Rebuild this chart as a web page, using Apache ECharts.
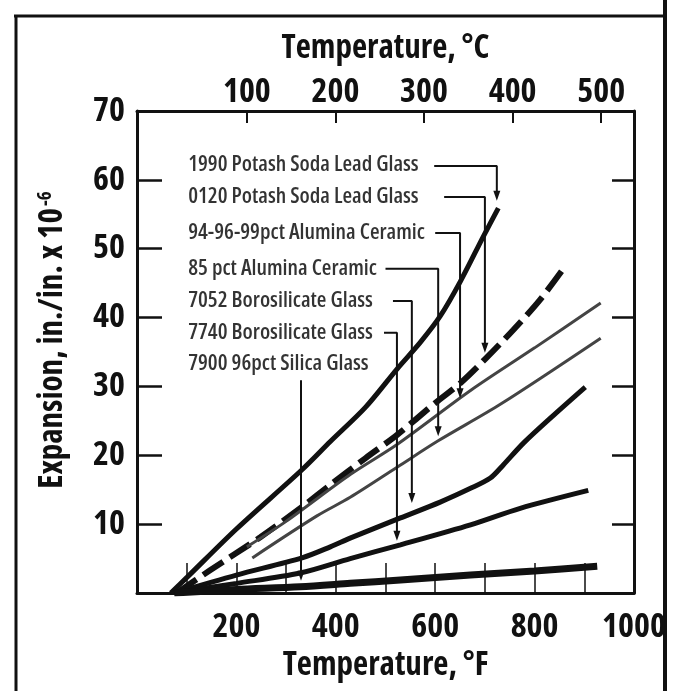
<!DOCTYPE html>
<html>
<head>
<meta charset="utf-8">
<script src="https://cdn.jsdelivr.net/npm/echarts@6/dist/echarts.min.js"></script>
<style>
html,body{margin:0;padding:0;background:#fff;}
#chart{width:673px;height:691px;}
</style>
</head>
<body>
<div id="chart"></div>
<script>
// ---- Data ----
const fahrenheitLabels = [200, 400, 600, 800, 1000];
const fahrenheitTicks = [100, 200, 300, 400, 500, 600, 700, 800, 900];
const celsiusLabels = [100, 200, 300, 400, 500];
const expansionTicks = [10, 20, 30, 40, 50, 60];

const seriesNames = [
  '1990 Potash Soda Lead Glass',
  '0120 Potash Soda Lead Glass',
  '94-96-99pct Alumina Ceramic',
  '85 pct Alumina Ceramic',
  '7052 Borosilicate Glass',
  '7740 Borosilicate Glass',
  '7900 96pct Silica Glass'
];

// [°F, expansion x 10^-6]
const glass1990 = [[68,0],[101,2.3],[200,9.3],[332,17.9],[389,22.0],[460,27.0],[524,32.6],[570,36.4],[610,40.2],[651,45.3],[697,51.8],[727,55.9]];
const glass0120 = [[80,0],[147,3.3],[248,8.1],[332,12.5],[389,15.7],[460,19.6],[524,23.0],[600,27.6],[651,30.5],[701,34.0],[757,38.2],[810,42.5],[856,46.9]];
const alumina949699 = [[221,6.7],[300,10.4],[429,17.2],[524,21.6],[671,29.4],[800,35.6],[933,42.1]];
const alumina85 = [[232,5.1],[362,11.2],[429,13.9],[524,18.3],[606,22.1],[731,27.4],[933,37.0]];
const boro7052 = [[75,0],[200,2.6],[332,5.1],[389,6.7],[430,8.0],[530,10.9],[610,13.2],[671,15.2],[711,16.7],[737,18.6],[778,21.8],[838,25.8],[902,29.9]];
const boro7740 = [[75,0],[200,1.4],[328,2.9],[429,5.0],[530,7.0],[671,9.9],[771,12.3],[908,14.9]];
const silica7900 = [[75,0],[200,0.5],[328,0.9],[429,1.4],[530,1.9],[671,2.6],[800,3.2],[926,3.9]];

// Annotation layout in data units: text row level, leader start/end (°F) and arrow tip level
const annotationTextF = 103;
const annotationRows = [62.2, 57.5, 52.3, 47.1, 42.4, 37.8, 33.3];
const leaderPaths = [
  [[598,62.0],[724,62.0],[724,57.7]],
  [[618,57.5],[700,57.5],[700,35.6]],
  [[600,52.3],[650,52.3],[650,29.0]],
  [[500,47.1],[606,47.1],[606,23.5]],
  [[515,42.4],[553,42.4],[553,13.8]],
  [[497,37.8],[523,37.8],[523,8.3]],
  [[330,30.9],[330,2.5]]
];

const FONT = "'Open Sans',Roboto,'DejaVu Sans Condensed',sans-serif";
const STRETCH = 'condensed';
const INK = '#111';

const chart = echarts.init(document.getElementById('chart'), null, {renderer: 'canvas'});

const curveSeries = [
  {name: seriesNames[0], data: glass1990, lineStyle: {width: 5, color: INK}},
  {name: seriesNames[1], data: glass0120, lineStyle: {width: 6, color: INK, type: [24, 8]}},
  {name: seriesNames[2], data: alumina949699, lineStyle: {width: 3, color: '#444'}},
  {name: seriesNames[3], data: alumina85, lineStyle: {width: 3, color: '#444'}},
  {name: seriesNames[4], data: boro7052, lineStyle: {width: 5, color: INK}},
  {name: seriesNames[5], data: boro7740, lineStyle: {width: 5, color: INK}},
  {name: seriesNames[6], data: silica7900, lineStyle: {width: 7, color: INK}}
].map(s => Object.assign({
  type: 'line', xAxisIndex: 0, yAxisIndex: 0, showSymbol: false, smooth: 0.3,
  z: 3, silent: true, clip: true
}, s));

const leaderSeries = leaderPaths.map((path, i) => ({
  type: 'line', name: 'leader' + i, xAxisIndex: 0, yAxisIndex: 0, silent: true, z: 4,
  lineStyle: {width: 2, color: INK},
  itemStyle: {color: INK},
  data: path.map((p, j) => j === path.length - 1
    ? {value: p, symbol: 'triangle', symbolRotate: 180, symbolSize: [7, 10]}
    : {value: p, symbol: 'none'}),
  showAllSymbol: true
}));

const textSeries = {
  type: 'scatter', name: 'annotations', xAxisIndex: 0, yAxisIndex: 0, silent: true, z: 5,
  symbolSize: 0,
  data: annotationRows.map((e, i) => [annotationTextF, e, seriesNames[i]]),
  label: {
    show: true, position: 'right', distance: 0,
    formatter: p => p.data[2],
    fontFamily: FONT, fontStyle: STRETCH, fontWeight: 600, fontSize: 22, color: '#000'
  }
};

const axisFont = {fontFamily: FONT, fontStyle: STRETCH, fontWeight: 'bold', color: INK};

const option = {
  animation: false,
  backgroundColor: '#fff',
  grid: {left: 137, right: 39, top: 111, bottom: 98, containLabel: false, outerBoundsMode: 'none'},
  xAxis: [
    {
      type: 'value', position: 'bottom', min: 0, max: 1000,
      name: 'Temperature, °F', nameLocation: 'middle', nameGap: 56,
      nameTextStyle: Object.assign({fontSize: 33}, axisFont),
      axisLine: {show: true, onZero: false, lineStyle: {color: INK, width: 3}},
      axisTick: {show: true, inside: true, length: 30, customValues: fahrenheitTicks, lineStyle: {color: INK, width: 1.5}},
      axisLabel: Object.assign({customValues: fahrenheitLabels, margin: 17, fontSize: 34, formatter: v => String(v)}, axisFont),
      splitLine: {show: false}
    },
    {
      type: 'value', position: 'top', min: -24, max: 537,
      name: 'Temperature, °C', nameLocation: 'middle', nameGap: 46,
      nameTextStyle: Object.assign({fontSize: 33}, axisFont),
      axisLine: {show: true, onZero: false, lineStyle: {color: INK, width: 3}},
      axisTick: {show: true, inside: true, length: 12, customValues: celsiusLabels, lineStyle: {color: INK, width: 2}},
      axisLabel: Object.assign({customValues: celsiusLabels, margin: 2, fontSize: 34, formatter: v => String(v)}, axisFont),
      splitLine: {show: false}
    }
  ],
  yAxis: [
    {
      type: 'value', position: 'left', min: 0, max: 70, interval: 10,
      name: 'Expansion, in./in. x 10{sup|-6}', nameLocation: 'middle', nameGap: 68, nameRotate: 90,
      nameTextStyle: Object.assign({fontSize: 33, padding: [0, 0, 0, 24],
        rich: {sup: Object.assign({fontSize: 19, verticalAlign: 'top', padding: [0, 0, 13, 2]}, axisFont)}}, axisFont),
      axisLine: {show: true, onZero: false, lineStyle: {color: INK, width: 3}},
      axisTick: {show: true, inside: true, length: 25, customValues: expansionTicks, lineStyle: {color: INK, width: 2.5}},
      axisLabel: Object.assign({showMinLabel: false, margin: 12, fontSize: 34}, axisFont),
      splitLine: {show: false}
    },
    {
      type: 'value', position: 'right', min: 0, max: 70, interval: 10,
      axisLine: {show: true, onZero: false, lineStyle: {color: INK, width: 3}},
      axisTick: {show: true, inside: true, length: 22, customValues: expansionTicks, lineStyle: {color: INK, width: 2.5}},
      axisLabel: {show: false},
      splitLine: {show: false}
    }
  ],
  graphic: [
    {type: 'line', shape: {x1: 14, y1: 16, x2: 666, y2: 16}, style: {stroke: INK, lineWidth: 3}, silent: true},
    {type: 'line', shape: {x1: 16, y1: 15, x2: 16, y2: 691}, style: {stroke: INK, lineWidth: 3}, silent: true},
    {type: 'line', shape: {x1: 665, y1: 0, x2: 665, y2: 691}, style: {stroke: INK, lineWidth: 4}, silent: true}
  ],
  series: [...curveSeries, ...leaderSeries, textSeries]
};

chart.setOption(option);
</script>
</body>
</html>
